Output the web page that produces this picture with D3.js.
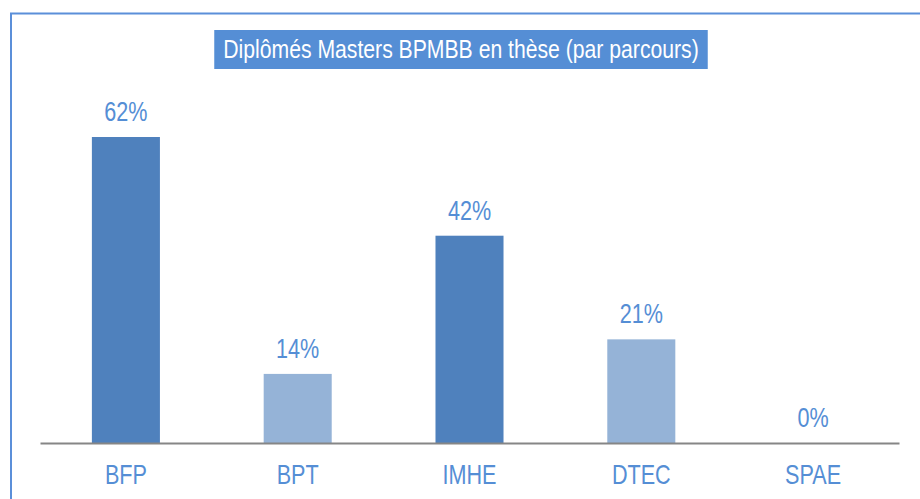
<html>
<head>
<meta charset="utf-8">
<script src="https://d3js.org/d3.v7.min.js"></script>
<style>
  body { margin: 0; background: #fff; }
  text { font-family: "Liberation Sans", Arial, sans-serif; }
</style>
</head>
<body>
<svg width="920" height="499"></svg>
<script>
// chart data
const parcours = ["BFP", "BPT", "IMHE", "DTEC", "SPAE"];
const pourcentages = [62, 14, 42, 21, 0];
const titre = "Diplômés Masters BPMBB en thèse (par parcours)";

const dark = "#4f81bd", light = "#95b3d7", labelColor = "#558ed5";
const narrow = 0.8; // text looks like Arial Narrow

const svg = d3.select("svg");

// outer frame (runs off the right/bottom edge)
svg.append("rect")
  .attr("x", 11).attr("y", 13.5)
  .attr("width", 1000).attr("height", 600)
  .attr("fill", "none")
  .attr("stroke", "#5b8fd9")
  .attr("stroke-width", 2);

var x = d3.scaleBand().domain(parcours).range([40, 899])
  .paddingInner(0.604).paddingOuter(0.302);
var y = d3.scaleLinear().domain([0, 62]).range([443, 137]);

// bars
svg.append("g")
  .selectAll("rect")
  .data(pourcentages)
  .enter()
  .append("rect")
  .attr("x", function(d, i) { return x(parcours[i]); })
  .attr("y", function(d) { return y(d); })
  .attr("width", x.bandwidth())
  .attr("height", function(d) { return y(0) - y(d); })
  .attr("fill", function(d, i) { return i % 2 == 0 ? dark : light; });

// value labels
svg.append("g")
  .selectAll("text")
  .data(pourcentages)
  .enter()
  .append("text")
  .attr("transform", function(d, i) {
    return "translate(" + (x(parcours[i]) + x.bandwidth() / 2) + "," + (y(d) - 16) + ") scale(" + narrow + ",1)";
  })
  .attr("text-anchor", "middle")
  .attr("fill", labelColor)
  .style("font-size", "27px")
  .text(function(d) { return d + "%"; });

// x axis
var ax = svg.append("g")
  .attr("transform", "translate(0," + y(0) + ")")
  .call(d3.axisBottom(x).tickSize(0).tickSizeOuter(0).tickPadding(22));
ax.select(".domain").attr("stroke", "#868686").attr("stroke-width", 2);
ax.selectAll("text")
  .attr("fill", labelColor)
  .attr("transform", "scale(" + narrow + ",1)")
  .style("font-size", "27px")
  .style("font-family", "'Liberation Sans', Arial, sans-serif");

// title with blue box
var tg = svg.append("g").attr("transform", "translate(461,58)");
var tbox = tg.append("rect").attr("fill", "#558ed5");
var tt = tg.append("text")
  .attr("text-anchor", "middle")
  .attr("transform", "scale(0.815,1)")
  .attr("fill", "#fff")
  .style("font-size", "26px")
  .text(titre);
var w = tt.node().getComputedTextLength() * 0.815;
tbox.attr("x", -w / 2 - 9).attr("y", -28).attr("width", w + 18).attr("height", 39);
</script>
</body>
</html>
